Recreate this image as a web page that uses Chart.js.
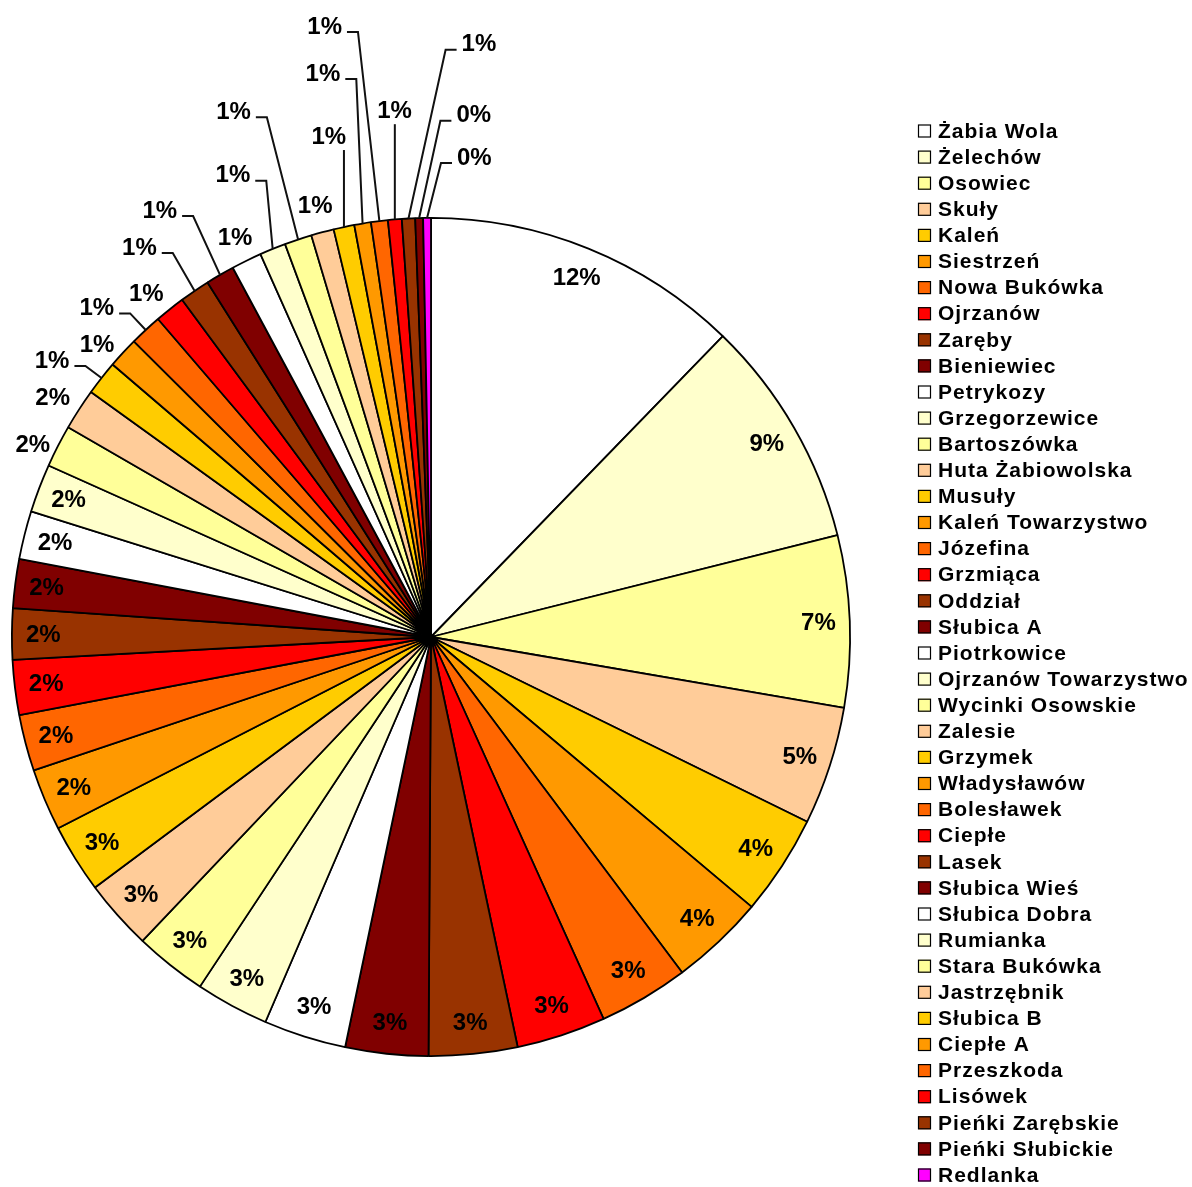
<!DOCTYPE html>
<html>
<head>
<meta charset="utf-8">
<title>Udział miejscowości</title>
<script src="https://cdn.jsdelivr.net/npm/chart.js@4/dist/chart.umd.min.js"></script>
<style>
  html, body { margin: 0; padding: 0; background: #ffffff; }
  #wrap { width: 1192px; height: 1187px; }
</style>
</head>
<body>
<div id="wrap"><canvas id="pie" width="1192" height="1187"></canvas></div>
<script>
// villages, in the order the slices go round (clockwise from 12 o'clock)
const VILLAGES = [
    'Żabia Wola', 'Żelechów', 'Osowiec', 'Skuły', 'Kaleń', 'Siestrzeń',
    'Nowa Bukówka', 'Ojrzanów', 'Zaręby', 'Bieniewiec', 'Petrykozy',
    'Grzegorzewice', 'Bartoszówka', 'Huta Żabiowolska', 'Musuły',
    'Kaleń Towarzystwo', 'Józefina', 'Grzmiąca', 'Oddział', 'Słubica A',
    'Piotrkowice', 'Ojrzanów Towarzystwo', 'Wycinki Osowskie', 'Zalesie',
    'Grzymek', 'Władysławów', 'Bolesławek', 'Ciepłe', 'Lasek',
    'Słubica Wieś', 'Słubica Dobra', 'Rumianka', 'Stara Bukówka',
    'Jastrzębnik', 'Słubica B', 'Ciepłe A', 'Przeszkoda', 'Lisówek',
    'Pieńki Zarębskie', 'Pieńki Słubickie', 'Redlanka'
];

// share of each village in percent
const SHARES = [
    12.26, 8.83, 6.61, 4.56, 3.87, 3.64,
    3.47, 3.44, 3.41, 3.19, 3.18,
    2.83, 2.79, 2.72, 2.65,
    2.39, 2.17, 2.11, 1.97, 1.89,
    1.86, 1.86, 1.63, 1.60,
    1.33, 1.19, 1.25, 1.17, 1.17,
    1.11, 1.17, 1.01, 1.05,
    0.88, 0.80, 0.64, 0.65, 0.53,
    0.51, 0.30, 0.30
];

// old excel palette, repeats every 10 slices; the last slice is magenta
const PALETTE = ['#FFFFFF', '#FFFFCC', '#FFFF99', '#FFCC99', '#FFCC00',
                 '#FF9900', '#FF6600', '#FF0000', '#993300', '#800000'];
const LAST_COLOR = '#FF00FF';

// where the small labels sit: [distance as part of radius, turn in degrees]
// null = label goes inside the slice
const LABEL_LAYOUT = [
    null, null, null, null, null, null, null, null, null, null, null,
    null, null, null, null, null, null, null, null, null, null, null,
    [1.055, -1.3], [1.068, -0.6], [1.12, -2.0], [1.06, -1.45],
    [1.12, -2.5], [1.065, -1.1], [1.162, -2.45], [1.207, -2.2],
    [1.062, 0], [1.2, -1.0], [1.34, -2.1], [1.067, 0], [1.22, 0.45],
    [1.37, -1.45], [1.48, -2.8], [1.26, 1.0], [1.42, 7.7], [1.25, 6.3],
    [1.15, 5.7]
];

const sliceColors = [];
for (let i = 0; i < VILLAGES.length; i++) {
    sliceColors.push(i === VILLAGES.length - 1 ? LAST_COLOR : PALETTE[i % PALETTE.length]);
}

const total = SHARES.reduce(function(a, b) { return a + b; }, 0);

// percent labels on and around the pie
const pieLabels = {
    id: 'pieLabels',
    afterDatasetsDraw(chart) {
        const ctx = chart.ctx;
        const arcs = chart.getDatasetMeta(0).data;
        ctx.save();
        ctx.font = 'bold 24px "Liberation Sans", Arial, sans-serif';
        ctx.fillStyle = '#000';
        ctx.strokeStyle = '#111';
        ctx.lineWidth = 2;
        ctx.textAlign = 'center';
        ctx.textBaseline = 'middle';

        for (let i = 0; i < arcs.length; i++) {
            const p = arcs[i].getProps(['x', 'y', 'startAngle', 'endAngle', 'outerRadius'], true);
            const mid = (p.startAngle + p.endAngle) / 2;
            const text = Math.round(SHARES[i] / total * 100) + '%';
            const layout = LABEL_LAYOUT[i];

            if (!layout) {
                const rIn = p.outerRadius * 0.925;
                ctx.fillText(text, p.x + Math.cos(mid) * rIn, p.y + Math.sin(mid) * rIn + 1);
                continue;
            }

            const a = mid + layout[1] * Math.PI / 180;
            const lx = p.x + Math.cos(a) * p.outerRadius * layout[0];
            const ly = p.y + Math.sin(a) * p.outerRadius * layout[0];
            ctx.fillText(text, lx, ly + 1);

            // leader line only for labels that sit well away from the pie
            if (layout[0] > 1.1) {
                const ex = p.x + Math.cos(mid) * p.outerRadius;
                const ey = p.y + Math.sin(mid) * p.outerRadius;
                const w = ctx.measureText(text).width;
                const left = lx - w / 2;
                const right = lx + w / 2;
                ctx.beginPath();
                if (ex >= left - 2 && ex <= right + 2) {
                    ctx.moveTo(ex, ly + 14);
                } else if (ex > right) {
                    ctx.moveTo(right + 5, ly + 6);
                    ctx.lineTo(right + 16, ly + 6);
                } else {
                    ctx.moveTo(left - 5, ly + 6);
                    ctx.lineTo(left - 16, ly + 6);
                }
                ctx.lineTo(ex, ey);
                ctx.stroke();
            }
        }
        ctx.restore();
    }
};

// legend column on the right
const sideLegend = {
    id: 'sideLegend',
    afterDraw(chart) {
        const ctx = chart.ctx;
        const x0 = 918;
        const y0 = 131;
        const step = 26.1;
        ctx.save();
        ctx.font = 'bold 21px "Liberation Sans", Arial, sans-serif';
        if ('letterSpacing' in ctx) {
            ctx.letterSpacing = '1px';
        }
        ctx.textAlign = 'left';
        ctx.textBaseline = 'middle';
        for (let i = 0; i < VILLAGES.length; i++) {
            const y = y0 + i * step;
            ctx.fillStyle = sliceColors[i];
            ctx.fillRect(x0, y - 6.5, 13, 13);
            ctx.strokeStyle = '#000';
            ctx.lineWidth = 1.2;
            ctx.strokeRect(x0 + 0.5, y - 6, 12, 12);
            ctx.fillStyle = '#000';
            ctx.fillText(VILLAGES[i], x0 + 20, y + 1);
        }
        ctx.restore();
    }
};

new Chart(document.getElementById('pie'), {
    type: 'pie',
    data: {
        labels: VILLAGES,
        datasets: [{
            data: SHARES,
            backgroundColor: sliceColors,
            borderColor: '#000',
            borderWidth: 1.8
        }]
    },
    options: {
        responsive: false,
        animation: false,
        layout: {
            padding: { left: 11, right: 341, top: 217, bottom: 130 }
        },
        plugins: {
            legend: { display: false },
            tooltip: { enabled: false }
        }
    },
    plugins: [pieLabels, sideLegend]
});
</script>
</body>
</html>
